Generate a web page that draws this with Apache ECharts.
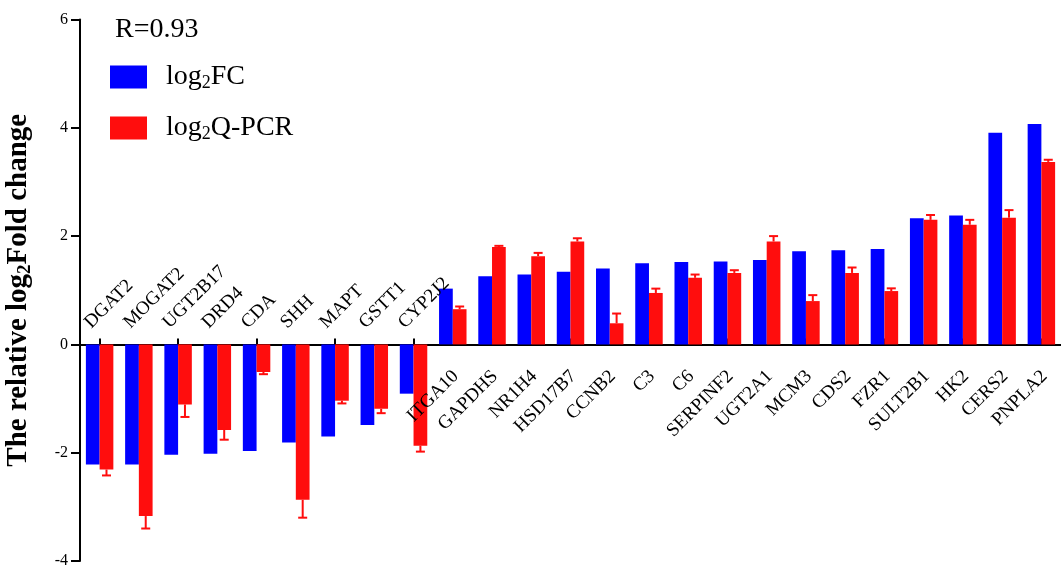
<!DOCTYPE html>
<html><head><meta charset="utf-8">
<script src="https://cdn.jsdelivr.net/npm/echarts@6/dist/echarts.min.js"></script>
<style>html,body{margin:0;padding:0;background:#fff}#c{width:1061px;height:567px}</style>
</head><body><div id="c"></div>
<script>
const categories = ['DGAT2','MOGAT2','UGT2B17','DRD4','CDA','SHH','MAPT','GSTT1','CYP2J2','ITGA10','GAPDHS','NR1H4','HSD17B7','CCNB2','C3','C6','SERPINF2','UGT2A1','MCM3','CDS2','FZR1','SULT2B1','HK2','CERS2','PNPLA2'];
const log2FC = [-2.22,-2.22,-2.04,-2.02,-1.97,-1.81,-1.70,-1.49,-0.91,1.03,1.26,1.29,1.34,1.40,1.50,1.52,1.53,1.56,1.72,1.74,1.76,2.33,2.38,3.91,4.07];
const log2QPCR = [-2.31,-3.17,-1.11,-1.58,-0.51,-2.87,-1.04,-1.19,-1.87,0.65,1.80,1.63,1.90,0.39,0.95,1.23,1.32,1.90,0.80,1.32,0.985,2.30,2.21,2.34,3.37];
const qpcrError = [0.11,0.23,0.23,0.18,0.04,0.33,0.05,0.08,0.11,0.05,0.02,0.06,0.06,0.18,0.08,0.06,0.05,0.10,0.11,0.10,0.05,0.09,0.09,0.14,0.04];
const yTicks = [-4,-2,0,2,4,6];
const correlation = 'R=0.93';
const seriesNames = ['log2FC','log2Q-PCR'];

const SERIF = '"Liberation Serif","Times New Roman",serif';
const BLUE = '#0000ff', RED = '#ff0d0d';
const BAR_RATIO = 0.35;

const chart = echarts.init(document.getElementById('c'), null, {renderer:'canvas'});

const option = {
  animation: false,
  backgroundColor: '#fff',
  grid: {left: 80, right: 0, top: 19.5, bottom: 6, containLabel: false, outerBoundsMode: 'none'},
  legend: {
    orient: 'vertical', left: 110, top: 63, padding: 0,
    itemWidth: 37, itemHeight: 23, itemGap: 22,
    icon: 'rect',
    data: seriesNames,
    formatter: function(name){
      const parts = name.split('2');
      return '{p|' + parts[0] + '}{s|2}{q|' + parts.slice(1).join('2') + '}';
    },
    textStyle: {
      color: '#000',
      rich: {
        p: {fontFamily: SERIF, fontSize: 28, lineHeight: 30, padding: [0,0,0,14], color:'#000'},
        s: {fontFamily: SERIF, fontSize: 18, lineHeight: 13, verticalAlign: 'bottom', color:'#000'},
        q: {fontFamily: SERIF, fontSize: 28, lineHeight: 30, color:'#000'}
      }
    }
  },
  graphic: [{
    type: 'text', x: 115, y: 30,
    style: {text: correlation, fontFamily: SERIF, fontSize: 28, fill: '#000', textVerticalAlign: 'middle', verticalAlign: 'middle'}
  }],
  xAxis: {
    type: 'category', data: categories, position: 'bottom',
    axisLine: {onZero: true, lineStyle: {color: '#000', width: 2}},
    axisTick: {show: true, inside: true, alignWithLabel: true, length: 6, lineStyle: {color:'#000', width: 2}},
    axisLabel: {show: false},
    splitLine: {show: false}
  },
  yAxis: {
    type: 'value', min: yTicks[0], max: yTicks[yTicks.length-1], interval: 2,
    axisLine: {show: true, lineStyle: {color: '#000', width: 2}},
    axisTick: {show: true, length: 9, lineStyle: {color: '#000', width: 2}},
    axisLabel: {fontFamily: SERIF, fontSize: 16, color: '#000', margin: 12},
    splitLine: {show: false},
    name: '{a|The relative log}{b|2}{a|Fold change}',
    nameLocation: 'middle', nameGap: 45,
    nameTextStyle: {
      rich: {
        a: {fontFamily: SERIF, fontSize: 29, fontWeight: 'bold', lineHeight: 32, color:'#000'},
        b: {fontFamily: SERIF, fontSize: 19, fontWeight: 'bold', lineHeight: 14, verticalAlign: 'bottom', color:'#000'}
      }
    }
  },
  series: [{
    name: seriesNames[0], type: 'bar', data: log2FC,
    barWidth: (BAR_RATIO*100) + '%', barGap: '0%',
    itemStyle: {color: BLUE}
  }, {
    name: seriesNames[1], type: 'bar', data: log2QPCR,
    barWidth: (BAR_RATIO*100) + '%', barGap: '0%',
    itemStyle: {color: RED}
  }, {
    name: 'err', type: 'custom', z: 3, silent: true,
    data: categories.map(function(c, i){ return [i, log2QPCR[i], qpcrError[i]]; }),
    encode: {x: 0, y: 1},
    renderItem: function(params, api){
      const i = api.value(0), v = api.value(1), e = api.value(2);
      const band = api.size([1, 0])[0];
      const off = band * BAR_RATIO / 2;
      const p0 = api.coord([i, v]);
      const p1 = api.coord([i, v < 0 ? v - e : v + e]);
      const x = p0[0] + off;
      const cap = 4.5;
      return {type: 'group', children: [
        {type: 'line', shape: {x1: x, y1: p0[1], x2: x, y2: p1[1]}, style: {stroke: RED, lineWidth: 2}},
        {type: 'line', shape: {x1: x - cap, y1: p1[1], x2: x + cap, y2: p1[1]}, style: {stroke: RED, lineWidth: 2}}
      ]};
    }
  }, {
    name: 'labels', type: 'custom', z: 4, silent: true,
    data: categories.map(function(c, i){ return [i, 0, log2FC[i] < 0 ? -1 : 1]; }),
    encode: {x: 0, y: 1},
    renderItem: function(params, api){
      const i = api.value(0), side = api.value(2);
      const p = api.coord([i, 0]);
      const text = categories[i];
      if (side > 0) {
        return {type: 'text', x: p[0] + 3, y: p[1] + 29, rotation: Math.PI / 4,
          style: {text: text, fontFamily: SERIF, fontSize: 19, fill: '#000', align: 'right', verticalAlign: 'middle'}};
      }
      return {type: 'text', x: p[0] - 12, y: p[1] - 19, rotation: Math.PI / 4,
        style: {text: text, fontFamily: SERIF, fontSize: 19, fill: '#000', align: 'left', verticalAlign: 'middle'}};
    }
  }]
};
chart.setOption(option);
</script></body></html>
